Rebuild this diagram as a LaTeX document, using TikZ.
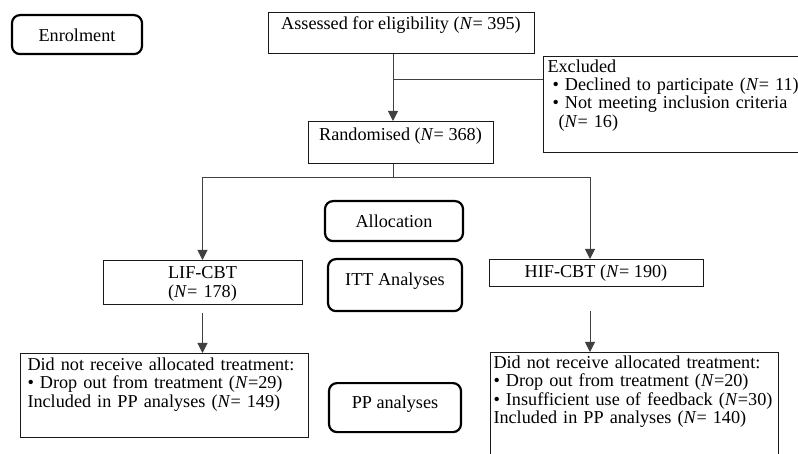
\documentclass[tikz,border=0pt]{standalone}
\usepackage{fontspec}
\setmainfont{Liberation Serif}
\usetikzlibrary{arrows.meta}

\begin{document}
\begin{tikzpicture}[x=1pt, y=-1pt, >={Triangle[width=10pt,length=10pt]},
  font=\fontsize{18.2}{18.3}\selectfont,
  stage/.style={rectangle, draw=black, line width=2.2pt, rounded corners=8pt, inner sep=0pt, align=center},
  box/.style={rectangle, draw=black!90, line width=1pt, inner ysep=0pt, inner xsep=4pt},
  arrow/.style={->, draw=black!75, line width=1pt},
  line/.style={draw=black!75, line width=1pt}]
  \useasboundingbox (0,0) rectangle (798,454);
  % stage labels
  \node[stage, minimum width=130pt, text height=26pt, text depth=13pt, anchor=north] (enrol) at (77,14) {Enrolment};
  \node[stage, minimum width=138pt, text height=26pt, text depth=14pt, anchor=north] (alloc) at (394,200) {Allocation};
  \node[stage, minimum width=134pt, text height=26.3pt, text depth=25.7pt, anchor=north] (itt) at (395,258) {ITT Analyses};
  \node[stage, minimum width=132pt, text height=25.7pt, text depth=23.3pt, anchor=north] (ppana) at (395,382) {PP analyses};
  % flow boxes
  \node[box, minimum width=266pt, text height=17.3pt, text depth=23.7pt, anchor=north] (assess) at (401,12) {Assessed for eligibility (\textit{N}= 395)};
  \node[box, minimum width=185pt, text height=19pt, text depth=23pt, anchor=north] (rand) at (400.5,121) {Randomised (\textit{N}= 368)};
  \node[box, text width=247pt, align=left, text height=15.7pt, text depth=80.3pt, anchor=north west] (excl) at (543,56)
    {Excluded\\
     \mbox{\hspace*{5pt}\textbullet\ Declined to participate (\textit{N}= 11)}\\
     \hspace*{5pt}\textbullet\ Not meeting inclusion criteria\\
     \hspace*{11pt}(\textit{N}= 16)};
  \node[box, text width=191pt, align=center, text height=18.3pt, text depth=25.7pt, anchor=north] (lif) at (202.5,260) {LIF-CBT\\ (\textit{N}= 178)};
  \node[box, minimum width=214pt, text height=18.3pt, text depth=8.7pt, anchor=north] (hif) at (596,259) {HIF-CBT (\textit{N}= 190)};
  \node[box, inner xsep=7pt, text width=274pt, align=left, text height=17pt, text depth=67pt, anchor=north west] (lifpp) at (20,353)
    {Did not receive allocated treatment:\\
     \textbullet\ Drop out from treatment (\textit{N}=29)\\
     Included in PP analyses (\textit{N}= 149)};
  \node[box, inner xsep=3pt, text width=282pt, align=left, text height=16pt, text depth=120pt, anchor=north west] (hifpp) at (490,352)
    {Did not receive allocated treatment:\\
     \textbullet\ Drop out from treatment (\textit{N}=20)\\
     \mbox{\textbullet\ Insufficient use of feedback (\textit{N}=30)}\\
     Included in PP analyses (\textit{N}= 140)};
  % connectors
  \coordinate (trunk) at ([xshift=-8pt]assess.south);
  \coordinate (exclfork) at (393,80);
  \coordinate (split) at (393,178);
  \draw[arrow] (trunk) -- (trunk |- rand.north);
  \draw[line] (exclfork) -- (exclfork -| excl.west);
  \draw[line] (trunk |- rand.south) -- (split);
  \draw[arrow] (split) -| (lif.north);
  \draw[arrow] (split) -| ([xshift=-6pt]hif.north);
  \draw[arrow, shorten <=8pt] (lif.south) -- (lif.south |- lifpp.north);
  \draw[arrow, shorten <=24pt] ([xshift=-6pt]hif.south) -- ([xshift=-6pt]hif.south |- hifpp.north);
\end{tikzpicture}
\end{document}
